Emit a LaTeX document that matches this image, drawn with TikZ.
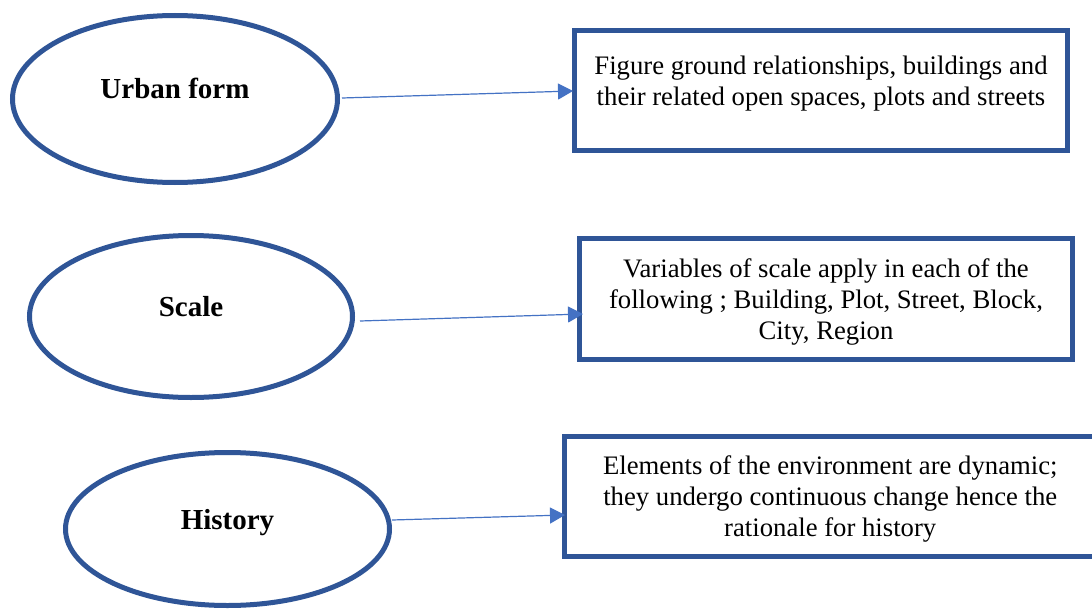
\documentclass[tikz,border=0pt]{standalone}
\usepackage{fontspec}
\setmainfont{Liberation Serif}
\usetikzlibrary{shapes.geometric,arrows.meta,calc}
\definecolor{frameblue}{HTML}{2F5597}
\definecolor{arrowblue}{HTML}{4472C4}
\begin{document}
\begin{tikzpicture}[x=1pt,y=-1pt,
  topic/.style={ellipse, draw=frameblue, line width=5pt, inner sep=0pt,
    text height=0pt, text depth=0pt, font=\fontsize{29}{34}\selectfont\bfseries},
  infobox/.style={rectangle, draw=frameblue, line width=5pt, inner sep=0pt},
  infotext/.style={align=center, inner sep=0pt, font=\fontsize{26.7}{31}\selectfont},
  link/.style={draw=arrowblue, line width=1.2pt, -{Triangle[length=15pt,width=16pt]}}]

% page area
\fill[white] (0,0) rectangle (1092,610);
\useasboundingbox (0,0) rectangle (1092,610);

% themes
\node[topic, minimum width=325pt, minimum height=167pt] (e1) at (175,99) {Urban form};
\node[topic, minimum width=323pt, minimum height=162pt] (e2) at (191,316.5) {Scale};
\node[topic, minimum width=324pt, minimum height=153pt] (e3) at (227.5,529) {History};

% descriptions
\node[infobox, minimum width=493pt, minimum height=120pt] (b1) at (821,90.5) {};
\node[infobox, minimum width=493pt, minimum height=121pt] (b2) at (826,299) {};
\node[infobox, minimum width=531.5pt, minimum height=119.5pt] (b3) at (830.25,496.25) {};

\node[infotext] (t1) at ([yshift=6.5pt]b1.center)
  {Figure ground relationships, buildings and\\their related open spaces, plots and streets};
\node[infotext] (t2) at ([yshift=-2.5pt]b2.center)
  {Variables of scale apply in each of the\\following ; Building, Plot, Street, Block,\\City, Region};
\node[infotext] (t3) at ([yshift=-3pt]b3.center)
  {Elements of the environment are dynamic;\\they undergo continuous change hence the\\rationale for history};

% links
\draw[link] ($(e1.east)+(2,-1)$) -- ($(b1.west)+(1,0.5)$);
\draw[link] ($(e2.east)+(5,4.5)$) -- ($(b2.west)+(6,15)$);
\draw[link] ($(e3.east)+(0,-9)$) -- ($(b3.west)+(3,18.75)$);
\end{tikzpicture}
\end{document}
